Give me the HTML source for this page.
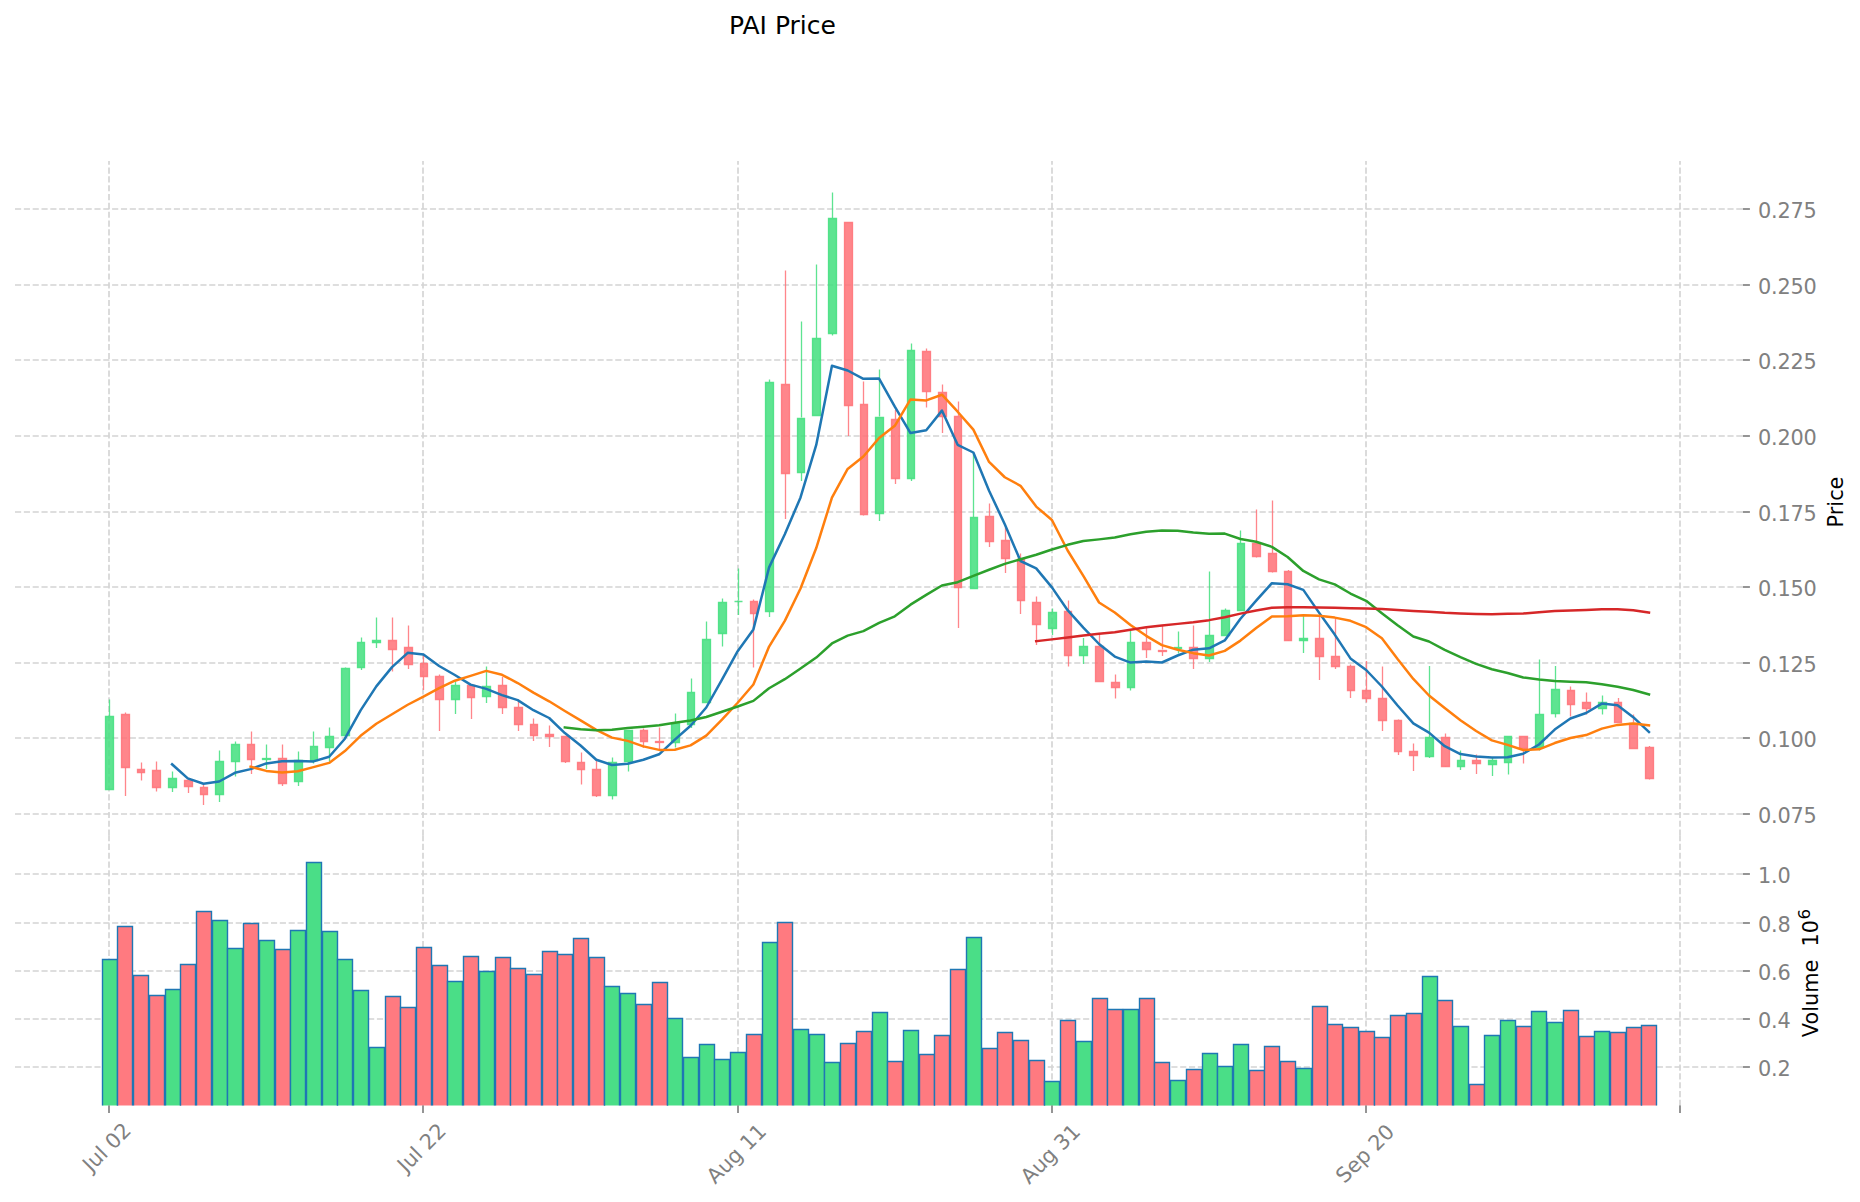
<!DOCTYPE html>
<html lang="en"><head><meta charset="utf-8"><title>PAI Price</title>
<style>html,body{margin:0;padding:0;background:#fff;overflow:hidden;}svg{display:block;}text{font-family:"DejaVu Sans","Liberation Sans",sans-serif;}</style></head><body>
<svg width="1860" height="1202" viewBox="0 0 1860 1202">
<rect width="1860" height="1202" fill="#ffffff"/>
<g stroke="#d4d4d4" stroke-width="1.67" stroke-dasharray="6.16 2.667" fill="none">
<line x1="15" y1="209" x2="1742.5" y2="209"/>
<line x1="15" y1="285" x2="1742.5" y2="285"/>
<line x1="15" y1="360" x2="1742.5" y2="360"/>
<line x1="15" y1="436" x2="1742.5" y2="436"/>
<line x1="15" y1="512" x2="1742.5" y2="512"/>
<line x1="15" y1="587" x2="1742.5" y2="587"/>
<line x1="15" y1="663" x2="1742.5" y2="663"/>
<line x1="15" y1="738" x2="1742.5" y2="738"/>
<line x1="15" y1="814" x2="1742.5" y2="814"/>
<line x1="15" y1="874" x2="1742.5" y2="874"/>
<line x1="15" y1="923" x2="1742.5" y2="923"/>
<line x1="15" y1="971" x2="1742.5" y2="971"/>
<line x1="15" y1="1019" x2="1742.5" y2="1019"/>
<line x1="15" y1="1067" x2="1742.5" y2="1067"/>
<line x1="109" y1="835.7" x2="109" y2="161"/>
<line x1="109" y1="1106" x2="109" y2="835.7"/>
<line x1="423" y1="835.7" x2="423" y2="161"/>
<line x1="423" y1="1106" x2="423" y2="835.7"/>
<line x1="738" y1="835.7" x2="738" y2="161"/>
<line x1="738" y1="1106" x2="738" y2="835.7"/>
<line x1="1052" y1="835.7" x2="1052" y2="161"/>
<line x1="1052" y1="1106" x2="1052" y2="835.7"/>
<line x1="1366" y1="835.7" x2="1366" y2="161"/>
<line x1="1366" y1="1106" x2="1366" y2="835.7"/>
<line x1="1680" y1="835.7" x2="1680" y2="161"/>
<line x1="1680" y1="1106" x2="1680" y2="835.7"/>
</g>
<g stroke="#1f77b4" stroke-width="1.4">
<path d="M102.5 1105.6V959.5H117.5V1105.6" fill="#4ade87"/>
<path d="M117.5 1105.6V926.5H132.5V1105.6" fill="#ff7a80"/>
<path d="M133.5 1105.6V975.5H148.5V1105.6" fill="#ff7a80"/>
<path d="M149.5 1105.6V995.5H164.5V1105.6" fill="#ff7a80"/>
<path d="M165.5 1105.6V989.5H180.5V1105.6" fill="#4ade87"/>
<path d="M180.5 1105.6V964.5H195.5V1105.6" fill="#ff7a80"/>
<path d="M196.5 1105.6V911.5H211.5V1105.6" fill="#ff7a80"/>
<path d="M212.5 1105.6V920.5H227.5V1105.6" fill="#4ade87"/>
<path d="M227.5 1105.6V948.5H242.5V1105.6" fill="#4ade87"/>
<path d="M243.5 1105.6V923.5H258.5V1105.6" fill="#ff7a80"/>
<path d="M259.5 1105.6V940.5H274.5V1105.6" fill="#4ade87"/>
<path d="M275.5 1105.6V949.5H290.5V1105.6" fill="#ff7a80"/>
<path d="M290.5 1105.6V930.5H305.5V1105.6" fill="#4ade87"/>
<path d="M306.5 1105.6V862.5H321.5V1105.6" fill="#4ade87"/>
<path d="M322.5 1105.6V931.5H337.5V1105.6" fill="#4ade87"/>
<path d="M337.5 1105.6V959.5H352.5V1105.6" fill="#4ade87"/>
<path d="M353.5 1105.6V990.5H368.5V1105.6" fill="#4ade87"/>
<path d="M369.5 1105.6V1047.5H384.5V1105.6" fill="#4ade87"/>
<path d="M385.5 1105.6V996.5H400.5V1105.6" fill="#ff7a80"/>
<path d="M400.5 1105.6V1007.5H415.5V1105.6" fill="#ff7a80"/>
<path d="M416.5 1105.6V947.5H431.5V1105.6" fill="#ff7a80"/>
<path d="M432.5 1105.6V965.5H447.5V1105.6" fill="#ff7a80"/>
<path d="M447.5 1105.6V981.5H462.5V1105.6" fill="#4ade87"/>
<path d="M463.5 1105.6V956.5H478.5V1105.6" fill="#ff7a80"/>
<path d="M479.5 1105.6V971.5H494.5V1105.6" fill="#4ade87"/>
<path d="M495.5 1105.6V957.5H510.5V1105.6" fill="#ff7a80"/>
<path d="M510.5 1105.6V968.5H525.5V1105.6" fill="#ff7a80"/>
<path d="M526.5 1105.6V974.5H541.5V1105.6" fill="#ff7a80"/>
<path d="M542.5 1105.6V951.5H557.5V1105.6" fill="#ff7a80"/>
<path d="M557.5 1105.6V954.5H572.5V1105.6" fill="#ff7a80"/>
<path d="M573.5 1105.6V938.5H588.5V1105.6" fill="#ff7a80"/>
<path d="M589.5 1105.6V957.5H604.5V1105.6" fill="#ff7a80"/>
<path d="M604.5 1105.6V986.5H619.5V1105.6" fill="#4ade87"/>
<path d="M620.5 1105.6V993.5H635.5V1105.6" fill="#4ade87"/>
<path d="M636.5 1105.6V1004.5H651.5V1105.6" fill="#ff7a80"/>
<path d="M652.5 1105.6V982.5H667.5V1105.6" fill="#ff7a80"/>
<path d="M667.5 1105.6V1018.5H682.5V1105.6" fill="#4ade87"/>
<path d="M683.5 1105.6V1057.5H698.5V1105.6" fill="#4ade87"/>
<path d="M699.5 1105.6V1044.5H714.5V1105.6" fill="#4ade87"/>
<path d="M714.5 1105.6V1059.5H729.5V1105.6" fill="#4ade87"/>
<path d="M730.5 1105.6V1052.5H745.5V1105.6" fill="#4ade87"/>
<path d="M746.5 1105.6V1034.5H761.5V1105.6" fill="#ff7a80"/>
<path d="M762.5 1105.6V942.5H777.5V1105.6" fill="#4ade87"/>
<path d="M777.5 1105.6V922.5H792.5V1105.6" fill="#ff7a80"/>
<path d="M793.5 1105.6V1029.5H808.5V1105.6" fill="#4ade87"/>
<path d="M809.5 1105.6V1034.5H824.5V1105.6" fill="#4ade87"/>
<path d="M824.5 1105.6V1062.5H839.5V1105.6" fill="#4ade87"/>
<path d="M840.5 1105.6V1043.5H855.5V1105.6" fill="#ff7a80"/>
<path d="M856.5 1105.6V1031.5H871.5V1105.6" fill="#ff7a80"/>
<path d="M872.5 1105.6V1012.5H887.5V1105.6" fill="#4ade87"/>
<path d="M887.5 1105.6V1061.5H902.5V1105.6" fill="#ff7a80"/>
<path d="M903.5 1105.6V1030.5H918.5V1105.6" fill="#4ade87"/>
<path d="M919.5 1105.6V1054.5H934.5V1105.6" fill="#ff7a80"/>
<path d="M934.5 1105.6V1035.5H949.5V1105.6" fill="#ff7a80"/>
<path d="M950.5 1105.6V969.5H965.5V1105.6" fill="#ff7a80"/>
<path d="M966.5 1105.6V937.5H981.5V1105.6" fill="#4ade87"/>
<path d="M982.5 1105.6V1048.5H997.5V1105.6" fill="#ff7a80"/>
<path d="M997.5 1105.6V1032.5H1012.5V1105.6" fill="#ff7a80"/>
<path d="M1013.5 1105.6V1040.5H1028.5V1105.6" fill="#ff7a80"/>
<path d="M1029.5 1105.6V1060.5H1044.5V1105.6" fill="#ff7a80"/>
<path d="M1044.5 1105.6V1081.5H1059.5V1105.6" fill="#4ade87"/>
<path d="M1060.5 1105.6V1020.5H1075.5V1105.6" fill="#ff7a80"/>
<path d="M1076.5 1105.6V1041.5H1091.5V1105.6" fill="#4ade87"/>
<path d="M1092.5 1105.6V998.5H1107.5V1105.6" fill="#ff7a80"/>
<path d="M1107.5 1105.6V1009.5H1122.5V1105.6" fill="#ff7a80"/>
<path d="M1123.5 1105.6V1009.5H1138.5V1105.6" fill="#4ade87"/>
<path d="M1139.5 1105.6V998.5H1154.5V1105.6" fill="#ff7a80"/>
<path d="M1154.5 1105.6V1062.5H1169.5V1105.6" fill="#ff7a80"/>
<path d="M1170.5 1105.6V1080.5H1185.5V1105.6" fill="#4ade87"/>
<path d="M1186.5 1105.6V1069.5H1201.5V1105.6" fill="#ff7a80"/>
<path d="M1202.5 1105.6V1053.5H1217.5V1105.6" fill="#4ade87"/>
<path d="M1217.5 1105.6V1066.5H1232.5V1105.6" fill="#4ade87"/>
<path d="M1233.5 1105.6V1044.5H1248.5V1105.6" fill="#4ade87"/>
<path d="M1249.5 1105.6V1070.5H1264.5V1105.6" fill="#ff7a80"/>
<path d="M1264.5 1105.6V1046.5H1279.5V1105.6" fill="#ff7a80"/>
<path d="M1280.5 1105.6V1061.5H1295.5V1105.6" fill="#ff7a80"/>
<path d="M1296.5 1105.6V1068.5H1311.5V1105.6" fill="#4ade87"/>
<path d="M1312.5 1105.6V1006.5H1327.5V1105.6" fill="#ff7a80"/>
<path d="M1327.5 1105.6V1024.5H1342.5V1105.6" fill="#ff7a80"/>
<path d="M1343.5 1105.6V1027.5H1358.5V1105.6" fill="#ff7a80"/>
<path d="M1359.5 1105.6V1031.5H1374.5V1105.6" fill="#ff7a80"/>
<path d="M1374.5 1105.6V1037.5H1389.5V1105.6" fill="#ff7a80"/>
<path d="M1390.5 1105.6V1015.5H1405.5V1105.6" fill="#ff7a80"/>
<path d="M1406.5 1105.6V1013.5H1421.5V1105.6" fill="#ff7a80"/>
<path d="M1422.5 1105.6V976.5H1437.5V1105.6" fill="#4ade87"/>
<path d="M1437.5 1105.6V1000.5H1452.5V1105.6" fill="#ff7a80"/>
<path d="M1453.5 1105.6V1026.5H1468.5V1105.6" fill="#4ade87"/>
<path d="M1469.5 1105.6V1084.5H1484.5V1105.6" fill="#ff7a80"/>
<path d="M1484.5 1105.6V1035.5H1499.5V1105.6" fill="#4ade87"/>
<path d="M1500.5 1105.6V1020.5H1515.5V1105.6" fill="#4ade87"/>
<path d="M1516.5 1105.6V1026.5H1531.5V1105.6" fill="#ff7a80"/>
<path d="M1531.5 1105.6V1011.5H1546.5V1105.6" fill="#4ade87"/>
<path d="M1547.5 1105.6V1022.5H1562.5V1105.6" fill="#4ade87"/>
<path d="M1563.5 1105.6V1010.5H1578.5V1105.6" fill="#ff7a80"/>
<path d="M1579.5 1105.6V1036.5H1594.5V1105.6" fill="#ff7a80"/>
<path d="M1594.5 1105.6V1031.5H1609.5V1105.6" fill="#4ade87"/>
<path d="M1610.5 1105.6V1032.5H1625.5V1105.6" fill="#ff7a80"/>
<path d="M1626.5 1105.6V1027.5H1641.5V1105.6" fill="#ff7a80"/>
<path d="M1641.5 1105.6V1025.5H1656.5V1105.6" fill="#ff7a80"/>
</g>
<g fill-opacity="0.85" stroke-opacity="0.85">
<line x1="109.5" y1="699.5" x2="109.5" y2="716" stroke="#42df7e" stroke-width="1.3"/>
<path d="M105.5 716.5H113.5V789.5H105.5Z" fill="#42df7e" stroke="#42df7e" stroke-width="1.3"/>
<line x1="125.5" y1="712.5" x2="125.5" y2="714" stroke="#ff7177" stroke-width="1.3"/>
<line x1="125.5" y1="767.5" x2="125.5" y2="796" stroke="#ff7177" stroke-width="1.3"/>
<path d="M121.5 714.5H129.5V767.5H121.5Z" fill="#ff7177" stroke="#ff7177" stroke-width="1.3"/>
<line x1="141.5" y1="762.5" x2="141.5" y2="769" stroke="#ff7177" stroke-width="1.3"/>
<line x1="141.5" y1="772.5" x2="141.5" y2="780.5" stroke="#ff7177" stroke-width="1.3"/>
<path d="M137.5 769.5H144.5V772.5H137.5Z" fill="#ff7177" stroke="#ff7177" stroke-width="1.3"/>
<line x1="156.5" y1="761.5" x2="156.5" y2="770" stroke="#ff7177" stroke-width="1.3"/>
<line x1="156.5" y1="787.5" x2="156.5" y2="791.5" stroke="#ff7177" stroke-width="1.3"/>
<path d="M152.5 770.5H160.5V787.5H152.5Z" fill="#ff7177" stroke="#ff7177" stroke-width="1.3"/>
<line x1="172.5" y1="771.5" x2="172.5" y2="778" stroke="#42df7e" stroke-width="1.3"/>
<line x1="172.5" y1="787.5" x2="172.5" y2="792" stroke="#42df7e" stroke-width="1.3"/>
<path d="M168.5 778.5H176.5V787.5H168.5Z" fill="#42df7e" stroke="#42df7e" stroke-width="1.3"/>
<line x1="188.5" y1="778" x2="188.5" y2="780" stroke="#ff7177" stroke-width="1.3"/>
<line x1="188.5" y1="786.5" x2="188.5" y2="793" stroke="#ff7177" stroke-width="1.3"/>
<path d="M184.5 780.5H192.5V786.5H184.5Z" fill="#ff7177" stroke="#ff7177" stroke-width="1.3"/>
<line x1="203.5" y1="785" x2="203.5" y2="787" stroke="#ff7177" stroke-width="1.3"/>
<line x1="203.5" y1="794.5" x2="203.5" y2="805" stroke="#ff7177" stroke-width="1.3"/>
<path d="M200.5 787.5H207.5V794.5H200.5Z" fill="#ff7177" stroke="#ff7177" stroke-width="1.3"/>
<line x1="219.5" y1="750.5" x2="219.5" y2="761" stroke="#42df7e" stroke-width="1.3"/>
<line x1="219.5" y1="794.5" x2="219.5" y2="802" stroke="#42df7e" stroke-width="1.3"/>
<path d="M215.5 761.5H223.5V794.5H215.5Z" fill="#42df7e" stroke="#42df7e" stroke-width="1.3"/>
<line x1="235.5" y1="741.5" x2="235.5" y2="744" stroke="#42df7e" stroke-width="1.3"/>
<line x1="235.5" y1="761.5" x2="235.5" y2="776.5" stroke="#42df7e" stroke-width="1.3"/>
<path d="M231.5 744.5H239.5V761.5H231.5Z" fill="#42df7e" stroke="#42df7e" stroke-width="1.3"/>
<line x1="251.5" y1="731.5" x2="251.5" y2="744" stroke="#ff7177" stroke-width="1.3"/>
<line x1="251.5" y1="759.5" x2="251.5" y2="774" stroke="#ff7177" stroke-width="1.3"/>
<path d="M247.5 744.5H254.5V759.5H247.5Z" fill="#ff7177" stroke="#ff7177" stroke-width="1.3"/>
<line x1="266.5" y1="744.5" x2="266.5" y2="758" stroke="#42df7e" stroke-width="1.3"/>
<line x1="266.5" y1="760" x2="266.5" y2="769" stroke="#42df7e" stroke-width="1.3"/>
<path d="M262.5 758.5H270.5V759.5H262.5Z" fill="#42df7e" stroke="#42df7e" stroke-width="1.3"/>
<line x1="282.5" y1="744.5" x2="282.5" y2="758" stroke="#ff7177" stroke-width="1.3"/>
<line x1="282.5" y1="783.5" x2="282.5" y2="786" stroke="#ff7177" stroke-width="1.3"/>
<path d="M278.5 758.5H286.5V783.5H278.5Z" fill="#ff7177" stroke="#ff7177" stroke-width="1.3"/>
<line x1="298.5" y1="751.5" x2="298.5" y2="760" stroke="#42df7e" stroke-width="1.3"/>
<line x1="298.5" y1="781.5" x2="298.5" y2="786" stroke="#42df7e" stroke-width="1.3"/>
<path d="M294.5 760.5H302.5V781.5H294.5Z" fill="#42df7e" stroke="#42df7e" stroke-width="1.3"/>
<line x1="313.5" y1="731.5" x2="313.5" y2="746" stroke="#42df7e" stroke-width="1.3"/>
<line x1="313.5" y1="761" x2="313.5" y2="763.5" stroke="#42df7e" stroke-width="1.3"/>
<path d="M310.5 746.5H317.5V760.5H310.5Z" fill="#42df7e" stroke="#42df7e" stroke-width="1.3"/>
<line x1="329.5" y1="727.5" x2="329.5" y2="736" stroke="#42df7e" stroke-width="1.3"/>
<line x1="329.5" y1="747.5" x2="329.5" y2="761.5" stroke="#42df7e" stroke-width="1.3"/>
<path d="M325.5 736.5H333.5V747.5H325.5Z" fill="#42df7e" stroke="#42df7e" stroke-width="1.3"/>
<line x1="345.5" y1="667.5" x2="345.5" y2="668" stroke="#42df7e" stroke-width="1.3"/>
<path d="M341.5 668.5H349.5V735.5H341.5Z" fill="#42df7e" stroke="#42df7e" stroke-width="1.3"/>
<line x1="361.5" y1="637.5" x2="361.5" y2="642" stroke="#42df7e" stroke-width="1.3"/>
<line x1="361.5" y1="667.5" x2="361.5" y2="670" stroke="#42df7e" stroke-width="1.3"/>
<path d="M357.5 642.5H364.5V667.5H357.5Z" fill="#42df7e" stroke="#42df7e" stroke-width="1.3"/>
<line x1="376.5" y1="617.5" x2="376.5" y2="640" stroke="#42df7e" stroke-width="1.3"/>
<line x1="376.5" y1="642.5" x2="376.5" y2="648" stroke="#42df7e" stroke-width="1.3"/>
<path d="M372.5 640.5H380.5V642.5H372.5Z" fill="#42df7e" stroke="#42df7e" stroke-width="1.3"/>
<line x1="392.5" y1="617.5" x2="392.5" y2="640" stroke="#ff7177" stroke-width="1.3"/>
<line x1="392.5" y1="649.5" x2="392.5" y2="671.5" stroke="#ff7177" stroke-width="1.3"/>
<path d="M388.5 640.5H396.5V649.5H388.5Z" fill="#ff7177" stroke="#ff7177" stroke-width="1.3"/>
<line x1="408.5" y1="625.5" x2="408.5" y2="647" stroke="#ff7177" stroke-width="1.3"/>
<line x1="408.5" y1="664.5" x2="408.5" y2="669" stroke="#ff7177" stroke-width="1.3"/>
<path d="M404.5 647.5H412.5V664.5H404.5Z" fill="#ff7177" stroke="#ff7177" stroke-width="1.3"/>
<line x1="423.5" y1="655" x2="423.5" y2="663" stroke="#ff7177" stroke-width="1.3"/>
<line x1="423.5" y1="676.5" x2="423.5" y2="690" stroke="#ff7177" stroke-width="1.3"/>
<path d="M420.5 663.5H427.5V676.5H420.5Z" fill="#ff7177" stroke="#ff7177" stroke-width="1.3"/>
<line x1="439.5" y1="674.5" x2="439.5" y2="676" stroke="#ff7177" stroke-width="1.3"/>
<line x1="439.5" y1="699.5" x2="439.5" y2="731" stroke="#ff7177" stroke-width="1.3"/>
<path d="M435.5 676.5H443.5V699.5H435.5Z" fill="#ff7177" stroke="#ff7177" stroke-width="1.3"/>
<line x1="455.5" y1="682" x2="455.5" y2="685" stroke="#42df7e" stroke-width="1.3"/>
<line x1="455.5" y1="699.5" x2="455.5" y2="714" stroke="#42df7e" stroke-width="1.3"/>
<path d="M451.5 685.5H459.5V699.5H451.5Z" fill="#42df7e" stroke="#42df7e" stroke-width="1.3"/>
<line x1="471.5" y1="697.5" x2="471.5" y2="719" stroke="#ff7177" stroke-width="1.3"/>
<path d="M467.5 685.5H474.5V697.5H467.5Z" fill="#ff7177" stroke="#ff7177" stroke-width="1.3"/>
<line x1="486.5" y1="666.5" x2="486.5" y2="686" stroke="#42df7e" stroke-width="1.3"/>
<line x1="486.5" y1="696.5" x2="486.5" y2="703" stroke="#42df7e" stroke-width="1.3"/>
<path d="M482.5 686.5H490.5V696.5H482.5Z" fill="#42df7e" stroke="#42df7e" stroke-width="1.3"/>
<line x1="502.5" y1="677" x2="502.5" y2="685" stroke="#ff7177" stroke-width="1.3"/>
<line x1="502.5" y1="707.5" x2="502.5" y2="714" stroke="#ff7177" stroke-width="1.3"/>
<path d="M498.5 685.5H506.5V707.5H498.5Z" fill="#ff7177" stroke="#ff7177" stroke-width="1.3"/>
<line x1="518.5" y1="702" x2="518.5" y2="707" stroke="#ff7177" stroke-width="1.3"/>
<line x1="518.5" y1="724.5" x2="518.5" y2="731" stroke="#ff7177" stroke-width="1.3"/>
<path d="M514.5 707.5H522.5V724.5H514.5Z" fill="#ff7177" stroke="#ff7177" stroke-width="1.3"/>
<line x1="533.5" y1="718.5" x2="533.5" y2="724" stroke="#ff7177" stroke-width="1.3"/>
<line x1="533.5" y1="735.5" x2="533.5" y2="741" stroke="#ff7177" stroke-width="1.3"/>
<path d="M530.5 724.5H537.5V735.5H530.5Z" fill="#ff7177" stroke="#ff7177" stroke-width="1.3"/>
<line x1="549.5" y1="725.5" x2="549.5" y2="734" stroke="#ff7177" stroke-width="1.3"/>
<line x1="549.5" y1="736.5" x2="549.5" y2="747" stroke="#ff7177" stroke-width="1.3"/>
<path d="M545.5 734.5H553.5V736.5H545.5Z" fill="#ff7177" stroke="#ff7177" stroke-width="1.3"/>
<line x1="565.5" y1="761.5" x2="565.5" y2="763" stroke="#ff7177" stroke-width="1.3"/>
<path d="M561.5 736.5H569.5V761.5H561.5Z" fill="#ff7177" stroke="#ff7177" stroke-width="1.3"/>
<line x1="581.5" y1="752.5" x2="581.5" y2="762" stroke="#ff7177" stroke-width="1.3"/>
<line x1="581.5" y1="769.5" x2="581.5" y2="784.5" stroke="#ff7177" stroke-width="1.3"/>
<path d="M577.5 762.5H584.5V769.5H577.5Z" fill="#ff7177" stroke="#ff7177" stroke-width="1.3"/>
<line x1="596.5" y1="760" x2="596.5" y2="769" stroke="#ff7177" stroke-width="1.3"/>
<line x1="596.5" y1="795.5" x2="596.5" y2="797" stroke="#ff7177" stroke-width="1.3"/>
<path d="M592.5 769.5H600.5V795.5H592.5Z" fill="#ff7177" stroke="#ff7177" stroke-width="1.3"/>
<line x1="612.5" y1="757.5" x2="612.5" y2="762" stroke="#42df7e" stroke-width="1.3"/>
<line x1="612.5" y1="795.5" x2="612.5" y2="799.5" stroke="#42df7e" stroke-width="1.3"/>
<path d="M608.5 762.5H616.5V795.5H608.5Z" fill="#42df7e" stroke="#42df7e" stroke-width="1.3"/>
<line x1="628.5" y1="762" x2="628.5" y2="771.5" stroke="#42df7e" stroke-width="1.3"/>
<path d="M624.5 730.5H632.5V761.5H624.5Z" fill="#42df7e" stroke="#42df7e" stroke-width="1.3"/>
<line x1="643.5" y1="728.5" x2="643.5" y2="730" stroke="#ff7177" stroke-width="1.3"/>
<line x1="643.5" y1="741.5" x2="643.5" y2="748" stroke="#ff7177" stroke-width="1.3"/>
<path d="M640.5 730.5H647.5V741.5H640.5Z" fill="#ff7177" stroke="#ff7177" stroke-width="1.3"/>
<line x1="659.5" y1="727.5" x2="659.5" y2="741" stroke="#ff7177" stroke-width="1.3"/>
<line x1="659.5" y1="742.5" x2="659.5" y2="749" stroke="#ff7177" stroke-width="1.3"/>
<path d="M655.5 741.5H663.5V742.5H655.5Z" fill="#ff7177" stroke="#ff7177" stroke-width="1.3"/>
<line x1="675.5" y1="713.5" x2="675.5" y2="722.5" stroke="#42df7e" stroke-width="1.3"/>
<line x1="675.5" y1="742.5" x2="675.5" y2="747.5" stroke="#42df7e" stroke-width="1.3"/>
<path d="M671.5 723.5H679.5V742.5H671.5Z" fill="#42df7e" stroke="#42df7e" stroke-width="1.3"/>
<line x1="691.5" y1="678.5" x2="691.5" y2="692" stroke="#42df7e" stroke-width="1.3"/>
<line x1="691.5" y1="724.5" x2="691.5" y2="728" stroke="#42df7e" stroke-width="1.3"/>
<path d="M687.5 692.5H694.5V724.5H687.5Z" fill="#42df7e" stroke="#42df7e" stroke-width="1.3"/>
<line x1="706.5" y1="621.5" x2="706.5" y2="639" stroke="#42df7e" stroke-width="1.3"/>
<path d="M702.5 639.5H710.5V702.5H702.5Z" fill="#42df7e" stroke="#42df7e" stroke-width="1.3"/>
<line x1="722.5" y1="598.5" x2="722.5" y2="602" stroke="#42df7e" stroke-width="1.3"/>
<line x1="722.5" y1="633.5" x2="722.5" y2="646.5" stroke="#42df7e" stroke-width="1.3"/>
<path d="M718.5 602.5H726.5V633.5H718.5Z" fill="#42df7e" stroke="#42df7e" stroke-width="1.3"/>
<line x1="738.5" y1="568.5" x2="738.5" y2="600.5" stroke="#42df7e" stroke-width="1.3"/>
<line x1="738.5" y1="601.5" x2="738.5" y2="615" stroke="#42df7e" stroke-width="1.3"/>
<path d="M734.5 601.5H742.5V601.5H734.5Z" fill="#42df7e" stroke="#42df7e" stroke-width="1.3"/>
<line x1="753.5" y1="599.5" x2="753.5" y2="601" stroke="#ff7177" stroke-width="1.3"/>
<line x1="753.5" y1="613.5" x2="753.5" y2="667.5" stroke="#ff7177" stroke-width="1.3"/>
<path d="M750.5 601.5H757.5V613.5H750.5Z" fill="#ff7177" stroke="#ff7177" stroke-width="1.3"/>
<line x1="769.5" y1="379.5" x2="769.5" y2="382" stroke="#42df7e" stroke-width="1.3"/>
<line x1="769.5" y1="611.5" x2="769.5" y2="617" stroke="#42df7e" stroke-width="1.3"/>
<path d="M765.5 382.5H773.5V611.5H765.5Z" fill="#42df7e" stroke="#42df7e" stroke-width="1.3"/>
<line x1="785.5" y1="270.5" x2="785.5" y2="384" stroke="#ff7177" stroke-width="1.3"/>
<line x1="785.5" y1="473.5" x2="785.5" y2="519" stroke="#ff7177" stroke-width="1.3"/>
<path d="M781.5 384.5H789.5V473.5H781.5Z" fill="#ff7177" stroke="#ff7177" stroke-width="1.3"/>
<line x1="801.5" y1="321.5" x2="801.5" y2="417.5" stroke="#42df7e" stroke-width="1.3"/>
<line x1="801.5" y1="472.5" x2="801.5" y2="481" stroke="#42df7e" stroke-width="1.3"/>
<path d="M797.5 418.5H804.5V472.5H797.5Z" fill="#42df7e" stroke="#42df7e" stroke-width="1.3"/>
<line x1="816.5" y1="264.5" x2="816.5" y2="338" stroke="#42df7e" stroke-width="1.3"/>
<path d="M812.5 338.5H820.5V415.5H812.5Z" fill="#42df7e" stroke="#42df7e" stroke-width="1.3"/>
<line x1="832.5" y1="192.5" x2="832.5" y2="218" stroke="#42df7e" stroke-width="1.3"/>
<line x1="832.5" y1="333.5" x2="832.5" y2="335.5" stroke="#42df7e" stroke-width="1.3"/>
<path d="M828.5 218.5H836.5V333.5H828.5Z" fill="#42df7e" stroke="#42df7e" stroke-width="1.3"/>
<line x1="848.5" y1="405.5" x2="848.5" y2="436" stroke="#ff7177" stroke-width="1.3"/>
<path d="M844.5 222.5H852.5V405.5H844.5Z" fill="#ff7177" stroke="#ff7177" stroke-width="1.3"/>
<line x1="863.5" y1="381.5" x2="863.5" y2="404" stroke="#ff7177" stroke-width="1.3"/>
<line x1="863.5" y1="515" x2="863.5" y2="515.5" stroke="#ff7177" stroke-width="1.3"/>
<path d="M860.5 404.5H867.5V514.5H860.5Z" fill="#ff7177" stroke="#ff7177" stroke-width="1.3"/>
<line x1="879.5" y1="369.5" x2="879.5" y2="416.5" stroke="#42df7e" stroke-width="1.3"/>
<line x1="879.5" y1="513.5" x2="879.5" y2="521" stroke="#42df7e" stroke-width="1.3"/>
<path d="M875.5 417.5H883.5V513.5H875.5Z" fill="#42df7e" stroke="#42df7e" stroke-width="1.3"/>
<line x1="895.5" y1="410" x2="895.5" y2="419" stroke="#ff7177" stroke-width="1.3"/>
<line x1="895.5" y1="478.5" x2="895.5" y2="484" stroke="#ff7177" stroke-width="1.3"/>
<path d="M891.5 419.5H899.5V478.5H891.5Z" fill="#ff7177" stroke="#ff7177" stroke-width="1.3"/>
<line x1="911.5" y1="343.5" x2="911.5" y2="350" stroke="#42df7e" stroke-width="1.3"/>
<line x1="911.5" y1="478.5" x2="911.5" y2="481" stroke="#42df7e" stroke-width="1.3"/>
<path d="M907.5 350.5H914.5V478.5H907.5Z" fill="#42df7e" stroke="#42df7e" stroke-width="1.3"/>
<line x1="926.5" y1="348.5" x2="926.5" y2="351" stroke="#ff7177" stroke-width="1.3"/>
<line x1="926.5" y1="391.5" x2="926.5" y2="407.5" stroke="#ff7177" stroke-width="1.3"/>
<path d="M922.5 351.5H930.5V391.5H922.5Z" fill="#ff7177" stroke="#ff7177" stroke-width="1.3"/>
<line x1="942.5" y1="384.5" x2="942.5" y2="392" stroke="#ff7177" stroke-width="1.3"/>
<line x1="942.5" y1="416.5" x2="942.5" y2="433" stroke="#ff7177" stroke-width="1.3"/>
<path d="M938.5 392.5H946.5V416.5H938.5Z" fill="#ff7177" stroke="#ff7177" stroke-width="1.3"/>
<line x1="958.5" y1="401.5" x2="958.5" y2="416" stroke="#ff7177" stroke-width="1.3"/>
<line x1="958.5" y1="587.5" x2="958.5" y2="628" stroke="#ff7177" stroke-width="1.3"/>
<path d="M954.5 416.5H961.5V587.5H954.5Z" fill="#ff7177" stroke="#ff7177" stroke-width="1.3"/>
<line x1="973.5" y1="452.5" x2="973.5" y2="517" stroke="#42df7e" stroke-width="1.3"/>
<path d="M970.5 517.5H977.5V588.5H970.5Z" fill="#42df7e" stroke="#42df7e" stroke-width="1.3"/>
<line x1="989.5" y1="503.5" x2="989.5" y2="516" stroke="#ff7177" stroke-width="1.3"/>
<line x1="989.5" y1="541.5" x2="989.5" y2="547" stroke="#ff7177" stroke-width="1.3"/>
<path d="M985.5 516.5H993.5V541.5H985.5Z" fill="#ff7177" stroke="#ff7177" stroke-width="1.3"/>
<line x1="1005.5" y1="527.5" x2="1005.5" y2="540" stroke="#ff7177" stroke-width="1.3"/>
<line x1="1005.5" y1="558.5" x2="1005.5" y2="573" stroke="#ff7177" stroke-width="1.3"/>
<path d="M1001.5 540.5H1009.5V558.5H1001.5Z" fill="#ff7177" stroke="#ff7177" stroke-width="1.3"/>
<line x1="1020.5" y1="553.5" x2="1020.5" y2="558.5" stroke="#ff7177" stroke-width="1.3"/>
<line x1="1020.5" y1="600.5" x2="1020.5" y2="614" stroke="#ff7177" stroke-width="1.3"/>
<path d="M1017.5 559.5H1024.5V600.5H1017.5Z" fill="#ff7177" stroke="#ff7177" stroke-width="1.3"/>
<line x1="1036.5" y1="596.5" x2="1036.5" y2="602" stroke="#ff7177" stroke-width="1.3"/>
<line x1="1036.5" y1="624.5" x2="1036.5" y2="645" stroke="#ff7177" stroke-width="1.3"/>
<path d="M1032.5 602.5H1040.5V624.5H1032.5Z" fill="#ff7177" stroke="#ff7177" stroke-width="1.3"/>
<line x1="1052.5" y1="608.5" x2="1052.5" y2="612" stroke="#42df7e" stroke-width="1.3"/>
<line x1="1052.5" y1="628.5" x2="1052.5" y2="635" stroke="#42df7e" stroke-width="1.3"/>
<path d="M1048.5 612.5H1056.5V628.5H1048.5Z" fill="#42df7e" stroke="#42df7e" stroke-width="1.3"/>
<line x1="1068.5" y1="600.5" x2="1068.5" y2="611" stroke="#ff7177" stroke-width="1.3"/>
<line x1="1068.5" y1="655.5" x2="1068.5" y2="666.5" stroke="#ff7177" stroke-width="1.3"/>
<path d="M1064.5 611.5H1071.5V655.5H1064.5Z" fill="#ff7177" stroke="#ff7177" stroke-width="1.3"/>
<line x1="1083.5" y1="638" x2="1083.5" y2="646" stroke="#42df7e" stroke-width="1.3"/>
<line x1="1083.5" y1="655.5" x2="1083.5" y2="664" stroke="#42df7e" stroke-width="1.3"/>
<path d="M1079.5 646.5H1087.5V655.5H1079.5Z" fill="#42df7e" stroke="#42df7e" stroke-width="1.3"/>
<line x1="1099.5" y1="635" x2="1099.5" y2="646" stroke="#ff7177" stroke-width="1.3"/>
<path d="M1095.5 646.5H1103.5V681.5H1095.5Z" fill="#ff7177" stroke="#ff7177" stroke-width="1.3"/>
<line x1="1115.5" y1="674.5" x2="1115.5" y2="682" stroke="#ff7177" stroke-width="1.3"/>
<line x1="1115.5" y1="687.5" x2="1115.5" y2="698.5" stroke="#ff7177" stroke-width="1.3"/>
<path d="M1111.5 682.5H1119.5V687.5H1111.5Z" fill="#ff7177" stroke="#ff7177" stroke-width="1.3"/>
<line x1="1130.5" y1="631" x2="1130.5" y2="642" stroke="#42df7e" stroke-width="1.3"/>
<line x1="1130.5" y1="687.5" x2="1130.5" y2="690.5" stroke="#42df7e" stroke-width="1.3"/>
<path d="M1127.5 642.5H1134.5V687.5H1127.5Z" fill="#42df7e" stroke="#42df7e" stroke-width="1.3"/>
<line x1="1146.5" y1="626.5" x2="1146.5" y2="642" stroke="#ff7177" stroke-width="1.3"/>
<line x1="1146.5" y1="649.5" x2="1146.5" y2="658" stroke="#ff7177" stroke-width="1.3"/>
<path d="M1142.5 642.5H1150.5V649.5H1142.5Z" fill="#ff7177" stroke="#ff7177" stroke-width="1.3"/>
<line x1="1162.5" y1="626" x2="1162.5" y2="649.5" stroke="#ff7177" stroke-width="1.3"/>
<line x1="1162.5" y1="651.5" x2="1162.5" y2="656" stroke="#ff7177" stroke-width="1.3"/>
<path d="M1158.5 650.5H1166.5V651.5H1158.5Z" fill="#ff7177" stroke="#ff7177" stroke-width="1.3"/>
<line x1="1178.5" y1="631.5" x2="1178.5" y2="647" stroke="#42df7e" stroke-width="1.3"/>
<line x1="1178.5" y1="648.5" x2="1178.5" y2="653.5" stroke="#42df7e" stroke-width="1.3"/>
<path d="M1174.5 647.5H1181.5V648.5H1174.5Z" fill="#42df7e" stroke="#42df7e" stroke-width="1.3"/>
<line x1="1193.5" y1="625.5" x2="1193.5" y2="647" stroke="#ff7177" stroke-width="1.3"/>
<line x1="1193.5" y1="658.5" x2="1193.5" y2="669" stroke="#ff7177" stroke-width="1.3"/>
<path d="M1189.5 647.5H1197.5V658.5H1189.5Z" fill="#ff7177" stroke="#ff7177" stroke-width="1.3"/>
<line x1="1209.5" y1="571.5" x2="1209.5" y2="635" stroke="#42df7e" stroke-width="1.3"/>
<line x1="1209.5" y1="658.5" x2="1209.5" y2="662" stroke="#42df7e" stroke-width="1.3"/>
<path d="M1205.5 635.5H1213.5V658.5H1205.5Z" fill="#42df7e" stroke="#42df7e" stroke-width="1.3"/>
<line x1="1225.5" y1="608.5" x2="1225.5" y2="610" stroke="#42df7e" stroke-width="1.3"/>
<path d="M1221.5 610.5H1229.5V635.5H1221.5Z" fill="#42df7e" stroke="#42df7e" stroke-width="1.3"/>
<line x1="1240.5" y1="530.5" x2="1240.5" y2="543" stroke="#42df7e" stroke-width="1.3"/>
<path d="M1237.5 543.5H1244.5V610.5H1237.5Z" fill="#42df7e" stroke="#42df7e" stroke-width="1.3"/>
<line x1="1256.5" y1="509.5" x2="1256.5" y2="543" stroke="#ff7177" stroke-width="1.3"/>
<line x1="1256.5" y1="556.5" x2="1256.5" y2="557.5" stroke="#ff7177" stroke-width="1.3"/>
<path d="M1252.5 543.5H1260.5V556.5H1252.5Z" fill="#ff7177" stroke="#ff7177" stroke-width="1.3"/>
<line x1="1272.5" y1="500.5" x2="1272.5" y2="553" stroke="#ff7177" stroke-width="1.3"/>
<line x1="1272.5" y1="571.5" x2="1272.5" y2="572.5" stroke="#ff7177" stroke-width="1.3"/>
<path d="M1268.5 553.5H1276.5V571.5H1268.5Z" fill="#ff7177" stroke="#ff7177" stroke-width="1.3"/>
<line x1="1288.5" y1="570" x2="1288.5" y2="571" stroke="#ff7177" stroke-width="1.3"/>
<line x1="1288.5" y1="640.5" x2="1288.5" y2="641" stroke="#ff7177" stroke-width="1.3"/>
<path d="M1284.5 571.5H1291.5V640.5H1284.5Z" fill="#ff7177" stroke="#ff7177" stroke-width="1.3"/>
<line x1="1303.5" y1="615" x2="1303.5" y2="638" stroke="#42df7e" stroke-width="1.3"/>
<line x1="1303.5" y1="640.5" x2="1303.5" y2="653" stroke="#42df7e" stroke-width="1.3"/>
<path d="M1299.5 638.5H1307.5V640.5H1299.5Z" fill="#42df7e" stroke="#42df7e" stroke-width="1.3"/>
<line x1="1319.5" y1="615" x2="1319.5" y2="638" stroke="#ff7177" stroke-width="1.3"/>
<line x1="1319.5" y1="656.5" x2="1319.5" y2="680" stroke="#ff7177" stroke-width="1.3"/>
<path d="M1315.5 638.5H1323.5V656.5H1315.5Z" fill="#ff7177" stroke="#ff7177" stroke-width="1.3"/>
<line x1="1335.5" y1="619" x2="1335.5" y2="656" stroke="#ff7177" stroke-width="1.3"/>
<line x1="1335.5" y1="666.5" x2="1335.5" y2="669" stroke="#ff7177" stroke-width="1.3"/>
<path d="M1331.5 656.5H1339.5V666.5H1331.5Z" fill="#ff7177" stroke="#ff7177" stroke-width="1.3"/>
<line x1="1350.5" y1="664.5" x2="1350.5" y2="666" stroke="#ff7177" stroke-width="1.3"/>
<line x1="1350.5" y1="690.5" x2="1350.5" y2="698" stroke="#ff7177" stroke-width="1.3"/>
<path d="M1347.5 666.5H1354.5V690.5H1347.5Z" fill="#ff7177" stroke="#ff7177" stroke-width="1.3"/>
<line x1="1366.5" y1="661" x2="1366.5" y2="690" stroke="#ff7177" stroke-width="1.3"/>
<line x1="1366.5" y1="698.5" x2="1366.5" y2="702.5" stroke="#ff7177" stroke-width="1.3"/>
<path d="M1362.5 690.5H1370.5V698.5H1362.5Z" fill="#ff7177" stroke="#ff7177" stroke-width="1.3"/>
<line x1="1382.5" y1="666.5" x2="1382.5" y2="698" stroke="#ff7177" stroke-width="1.3"/>
<line x1="1382.5" y1="720.5" x2="1382.5" y2="731" stroke="#ff7177" stroke-width="1.3"/>
<path d="M1378.5 698.5H1386.5V720.5H1378.5Z" fill="#ff7177" stroke="#ff7177" stroke-width="1.3"/>
<line x1="1398.5" y1="719.5" x2="1398.5" y2="720" stroke="#ff7177" stroke-width="1.3"/>
<line x1="1398.5" y1="751.5" x2="1398.5" y2="755" stroke="#ff7177" stroke-width="1.3"/>
<path d="M1394.5 720.5H1401.5V751.5H1394.5Z" fill="#ff7177" stroke="#ff7177" stroke-width="1.3"/>
<line x1="1413.5" y1="743.5" x2="1413.5" y2="751" stroke="#ff7177" stroke-width="1.3"/>
<line x1="1413.5" y1="755.5" x2="1413.5" y2="771" stroke="#ff7177" stroke-width="1.3"/>
<path d="M1409.5 751.5H1417.5V755.5H1409.5Z" fill="#ff7177" stroke="#ff7177" stroke-width="1.3"/>
<line x1="1429.5" y1="666" x2="1429.5" y2="737" stroke="#42df7e" stroke-width="1.3"/>
<line x1="1429.5" y1="756.5" x2="1429.5" y2="758" stroke="#42df7e" stroke-width="1.3"/>
<path d="M1425.5 737.5H1433.5V756.5H1425.5Z" fill="#42df7e" stroke="#42df7e" stroke-width="1.3"/>
<line x1="1445.5" y1="733.5" x2="1445.5" y2="737" stroke="#ff7177" stroke-width="1.3"/>
<line x1="1445.5" y1="766.5" x2="1445.5" y2="767" stroke="#ff7177" stroke-width="1.3"/>
<path d="M1441.5 737.5H1449.5V766.5H1441.5Z" fill="#ff7177" stroke="#ff7177" stroke-width="1.3"/>
<line x1="1460.5" y1="750.5" x2="1460.5" y2="760" stroke="#42df7e" stroke-width="1.3"/>
<line x1="1460.5" y1="766.5" x2="1460.5" y2="770" stroke="#42df7e" stroke-width="1.3"/>
<path d="M1457.5 760.5H1464.5V766.5H1457.5Z" fill="#42df7e" stroke="#42df7e" stroke-width="1.3"/>
<line x1="1476.5" y1="754.5" x2="1476.5" y2="760" stroke="#ff7177" stroke-width="1.3"/>
<line x1="1476.5" y1="763.5" x2="1476.5" y2="774" stroke="#ff7177" stroke-width="1.3"/>
<path d="M1472.5 760.5H1480.5V763.5H1472.5Z" fill="#ff7177" stroke="#ff7177" stroke-width="1.3"/>
<line x1="1492.5" y1="758" x2="1492.5" y2="760" stroke="#42df7e" stroke-width="1.3"/>
<line x1="1492.5" y1="764.5" x2="1492.5" y2="776" stroke="#42df7e" stroke-width="1.3"/>
<path d="M1488.5 760.5H1496.5V764.5H1488.5Z" fill="#42df7e" stroke="#42df7e" stroke-width="1.3"/>
<line x1="1508.5" y1="762.5" x2="1508.5" y2="774.5" stroke="#42df7e" stroke-width="1.3"/>
<path d="M1504.5 736.5H1511.5V762.5H1504.5Z" fill="#42df7e" stroke="#42df7e" stroke-width="1.3"/>
<line x1="1523.5" y1="749" x2="1523.5" y2="763.5" stroke="#ff7177" stroke-width="1.3"/>
<path d="M1519.5 736.5H1527.5V748.5H1519.5Z" fill="#ff7177" stroke="#ff7177" stroke-width="1.3"/>
<line x1="1539.5" y1="659.5" x2="1539.5" y2="714" stroke="#42df7e" stroke-width="1.3"/>
<line x1="1539.5" y1="748" x2="1539.5" y2="750.5" stroke="#42df7e" stroke-width="1.3"/>
<path d="M1535.5 714.5H1543.5V747.5H1535.5Z" fill="#42df7e" stroke="#42df7e" stroke-width="1.3"/>
<line x1="1555.5" y1="666" x2="1555.5" y2="689" stroke="#42df7e" stroke-width="1.3"/>
<line x1="1555.5" y1="713.5" x2="1555.5" y2="717.5" stroke="#42df7e" stroke-width="1.3"/>
<path d="M1551.5 689.5H1559.5V713.5H1551.5Z" fill="#42df7e" stroke="#42df7e" stroke-width="1.3"/>
<line x1="1570.5" y1="686.5" x2="1570.5" y2="690" stroke="#ff7177" stroke-width="1.3"/>
<line x1="1570.5" y1="704.5" x2="1570.5" y2="716.5" stroke="#ff7177" stroke-width="1.3"/>
<path d="M1567.5 690.5H1574.5V704.5H1567.5Z" fill="#ff7177" stroke="#ff7177" stroke-width="1.3"/>
<line x1="1586.5" y1="692.5" x2="1586.5" y2="702" stroke="#ff7177" stroke-width="1.3"/>
<line x1="1586.5" y1="708.5" x2="1586.5" y2="714.5" stroke="#ff7177" stroke-width="1.3"/>
<path d="M1582.5 702.5H1590.5V708.5H1582.5Z" fill="#ff7177" stroke="#ff7177" stroke-width="1.3"/>
<line x1="1602.5" y1="695.5" x2="1602.5" y2="702" stroke="#42df7e" stroke-width="1.3"/>
<line x1="1602.5" y1="708.5" x2="1602.5" y2="714.5" stroke="#42df7e" stroke-width="1.3"/>
<path d="M1598.5 702.5H1606.5V708.5H1598.5Z" fill="#42df7e" stroke="#42df7e" stroke-width="1.3"/>
<line x1="1618.5" y1="698" x2="1618.5" y2="702" stroke="#ff7177" stroke-width="1.3"/>
<path d="M1614.5 702.5H1621.5V722.5H1614.5Z" fill="#ff7177" stroke="#ff7177" stroke-width="1.3"/>
<line x1="1633.5" y1="714.5" x2="1633.5" y2="722.5" stroke="#ff7177" stroke-width="1.3"/>
<path d="M1629.5 723.5H1637.5V748.5H1629.5Z" fill="#ff7177" stroke="#ff7177" stroke-width="1.3"/>
<line x1="1649.5" y1="746" x2="1649.5" y2="747" stroke="#ff7177" stroke-width="1.3"/>
<line x1="1649.5" y1="778.5" x2="1649.5" y2="779.5" stroke="#ff7177" stroke-width="1.3"/>
<path d="M1645.5 747.5H1653.5V778.5H1645.5Z" fill="#ff7177" stroke="#ff7177" stroke-width="1.3"/>
</g>
<g fill="none" stroke-width="2.5" stroke-linejoin="round" stroke-linecap="square">
<polyline stroke="#1f77b4" points="172.05,764.30 187.76,778.40 203.47,783.80 219.18,781.50 234.90,772.80 250.61,769.10 266.32,763.40 282.03,761.20 297.74,761.00 313.46,761.40 329.17,756.70 344.88,738.70 360.59,710.40 376.30,686.40 392.02,667.10 407.73,652.80 423.44,654.50 439.15,666.00 454.86,675.00 470.58,684.60 486.29,688.90 502.00,695.10 517.71,700.10 533.42,710.20 549.14,718.00 564.85,733.10 580.56,745.50 596.27,759.70 611.98,765.00 627.70,763.70 643.41,759.70 659.12,754.30 674.83,739.70 690.54,725.70 706.26,707.50 721.97,679.60 737.68,651.20 753.39,629.40 769.10,567.40 784.82,534.30 800.53,497.40 816.24,444.90 831.95,365.80 847.66,370.50 863.38,378.80 879.09,378.60 894.80,406.70 910.51,433.10 926.22,430.30 941.94,410.60 957.65,444.80 973.36,452.50 989.07,490.80 1004.78,524.20 1020.50,561.00 1036.21,568.40 1051.92,587.40 1067.63,610.20 1083.34,627.70 1099.06,644.00 1114.77,656.60 1130.48,662.60 1146.19,661.40 1161.90,662.50 1177.62,655.50 1193.33,649.70 1209.04,648.30 1224.75,640.40 1240.46,618.70 1256.18,600.60 1271.89,583.20 1287.60,584.30 1303.31,589.90 1319.02,612.60 1334.74,634.60 1350.45,658.40 1366.16,670.00 1381.87,686.50 1397.58,705.50 1413.30,723.30 1429.01,732.60 1444.72,746.20 1460.43,754.10 1476.14,756.50 1491.86,757.40 1507.57,757.20 1523.28,753.70 1538.99,744.50 1554.70,729.60 1570.42,718.50 1586.13,713.00 1601.84,703.60 1617.55,705.30 1633.26,717.20 1648.98,732.00"/>
<polyline stroke="#ff7f0e" points="250.61,766.70 266.32,770.90 282.03,772.50 297.74,771.25 313.46,767.10 329.17,762.90 344.88,751.05 360.59,735.80 376.30,723.70 392.02,714.25 407.73,704.75 423.44,696.60 439.15,688.20 454.86,680.70 470.58,675.85 486.29,670.85 502.00,674.80 517.71,683.05 533.42,692.60 549.14,701.30 564.85,711.00 580.56,720.30 596.27,729.90 611.98,737.60 627.70,740.85 643.41,746.40 659.12,749.90 674.83,749.70 690.54,745.35 706.26,735.60 721.97,719.65 737.68,702.75 753.39,684.55 769.10,646.55 784.82,620.90 800.53,588.50 816.24,548.05 831.95,497.60 847.66,468.95 863.38,456.55 879.09,438.00 894.80,425.80 910.51,399.45 926.22,400.40 941.94,394.70 957.65,411.70 973.36,429.60 989.07,461.95 1004.78,477.25 1020.50,485.80 1036.21,506.60 1051.92,519.95 1067.63,550.50 1083.34,575.95 1099.06,602.50 1114.77,612.50 1130.48,625.00 1146.19,635.80 1161.90,645.10 1177.62,649.75 1193.33,653.15 1209.04,655.45 1224.75,650.90 1240.46,640.60 1256.18,628.05 1271.89,616.45 1287.60,616.30 1303.31,615.15 1319.02,615.65 1334.74,617.60 1350.45,620.80 1366.16,627.15 1381.87,638.20 1397.58,659.05 1413.30,678.95 1429.01,695.50 1444.72,708.10 1460.43,720.30 1476.14,731.00 1491.86,740.35 1507.57,744.90 1523.28,749.95 1538.99,749.30 1554.70,743.05 1570.42,737.95 1586.13,735.10 1601.84,728.65 1617.55,724.90 1633.26,723.40 1648.98,725.25"/>
<polyline stroke="#2ca02c" points="564.85,727.48 580.56,729.27 596.27,730.20 611.98,729.85 627.70,727.93 643.41,726.72 659.12,725.25 674.83,722.85 690.54,720.55 706.26,717.05 721.97,711.80 737.68,706.55 753.39,700.88 769.10,688.28 784.82,679.20 800.53,668.58 816.24,657.58 831.95,643.45 847.66,635.63 863.38,631.15 879.09,622.88 894.80,616.28 910.51,604.63 926.22,594.85 941.94,585.48 957.65,582.20 973.36,575.85 989.07,569.75 1004.78,563.85 1020.50,559.32 1036.21,554.75 1051.92,549.50 1067.63,544.83 1083.34,540.97 1099.06,539.37 1114.77,537.57 1130.48,534.22 1146.19,531.78 1161.90,530.43 1177.62,530.70 1193.33,532.58 1209.04,533.73 1224.75,533.62 1240.46,538.98 1256.18,541.75 1271.89,546.88 1287.60,556.97 1303.31,570.97 1319.02,579.33 1334.74,584.38 1350.45,593.52 1366.16,600.85 1381.87,613.20 1397.58,625.20 1413.30,636.50 1429.01,641.48 1444.72,649.80 1460.43,657.08 1476.14,663.92 1491.86,669.23 1507.57,672.95 1523.28,677.52 1538.99,679.47 1554.70,680.90 1570.42,681.65 1586.13,682.35 1601.84,684.35 1617.55,686.78 1633.26,690.02 1648.98,694.40"/>
<polyline stroke="#d62728" points="1036.21,641.12 1051.92,639.38 1067.63,637.52 1083.34,635.41 1099.06,633.65 1114.77,632.14 1130.48,629.73 1146.19,627.32 1161.90,625.49 1177.62,623.88 1193.33,622.19 1209.04,620.14 1224.75,617.25 1240.46,613.63 1256.18,610.48 1271.89,607.73 1287.60,607.27 1303.31,607.21 1319.02,607.48 1334.74,607.77 1350.45,608.20 1366.16,608.57 1381.87,608.92 1397.58,610.02 1413.30,610.99 1429.01,611.84 1444.72,612.83 1460.43,613.42 1476.14,613.88 1491.86,614.27 1507.57,613.85 1523.28,613.51 1538.99,612.15 1554.70,610.93 1570.42,610.51 1586.13,609.96 1601.84,609.28 1617.55,609.28 1633.26,610.23 1648.98,612.55"/>
</g>
<g stroke="#808080" stroke-width="1.67">
<line x1="1742.8" y1="209" x2="1749.9" y2="209"/>
<line x1="1742.8" y1="285" x2="1749.9" y2="285"/>
<line x1="1742.8" y1="360" x2="1749.9" y2="360"/>
<line x1="1742.8" y1="436" x2="1749.9" y2="436"/>
<line x1="1742.8" y1="512" x2="1749.9" y2="512"/>
<line x1="1742.8" y1="587" x2="1749.9" y2="587"/>
<line x1="1742.8" y1="663" x2="1749.9" y2="663"/>
<line x1="1742.8" y1="738" x2="1749.9" y2="738"/>
<line x1="1742.8" y1="814" x2="1749.9" y2="814"/>
<line x1="1742.8" y1="874" x2="1749.9" y2="874"/>
<line x1="1742.8" y1="923" x2="1749.9" y2="923"/>
<line x1="1742.8" y1="971" x2="1749.9" y2="971"/>
<line x1="1742.8" y1="1019" x2="1749.9" y2="1019"/>
<line x1="1742.8" y1="1067" x2="1749.9" y2="1067"/>
<line x1="109" y1="1105.6" x2="109" y2="1112.9"/>
<line x1="423" y1="1105.6" x2="423" y2="1112.9"/>
<line x1="738" y1="1105.6" x2="738" y2="1112.9"/>
<line x1="1052" y1="1105.6" x2="1052" y2="1112.9"/>
<line x1="1366" y1="1105.6" x2="1366" y2="1112.9"/>
<line x1="1680" y1="1105.6" x2="1680" y2="1112.9"/>
</g>
<g fill="#808080" font-size="20.83px">
<text x="1758" y="218.1" letter-spacing="-0.2">0.275</text>
<text x="1758" y="293.7" letter-spacing="-0.2">0.250</text>
<text x="1758" y="369.3" letter-spacing="-0.2">0.225</text>
<text x="1758" y="444.9" letter-spacing="-0.2">0.200</text>
<text x="1758" y="520.5" letter-spacing="-0.2">0.175</text>
<text x="1758" y="596.2" letter-spacing="-0.2">0.150</text>
<text x="1758" y="671.8" letter-spacing="-0.2">0.125</text>
<text x="1758" y="747.4" letter-spacing="-0.2">0.100</text>
<text x="1758" y="823.0" letter-spacing="-0.2">0.075</text>
<text x="1758" y="883.3" letter-spacing="-0.2">1.0</text>
<text x="1758" y="931.5" letter-spacing="-0.2">0.8</text>
<text x="1758" y="979.8" letter-spacing="-0.2">0.6</text>
<text x="1758" y="1028.0" letter-spacing="-0.2">0.4</text>
<text x="1758" y="1076.3" letter-spacing="-0.2">0.2</text>
<text transform="translate(106.9,1147.3) rotate(-45)" text-anchor="middle" dominant-baseline="central">Jul 02</text>
<text transform="translate(421.7,1147.8) rotate(-45)" text-anchor="middle" dominant-baseline="central">Jul 22</text>
<text transform="translate(736.5,1153.8) rotate(-45)" text-anchor="middle" dominant-baseline="central">Aug 11</text>
<text transform="translate(1050.5,1153.9) rotate(-45)" text-anchor="middle" dominant-baseline="central">Aug 31</text>
<text transform="translate(1365.2,1153.8) rotate(-45)" text-anchor="middle" dominant-baseline="central">Sep 20</text>
</g>
<g fill="#000000" font-size="20.83px">
<text transform="translate(1843.2,502) rotate(-90)" text-anchor="middle">Price</text>
<text transform="translate(1818.3,973) rotate(-90)" text-anchor="middle" xml:space="preserve">Volume  10<tspan font-size="16.7px" dx="0.5" dy="-7.9">6</tspan></text>
</g>
<text x="729" y="34" font-size="25px" fill="#000000">PAI Price</text>
</svg></body></html>
